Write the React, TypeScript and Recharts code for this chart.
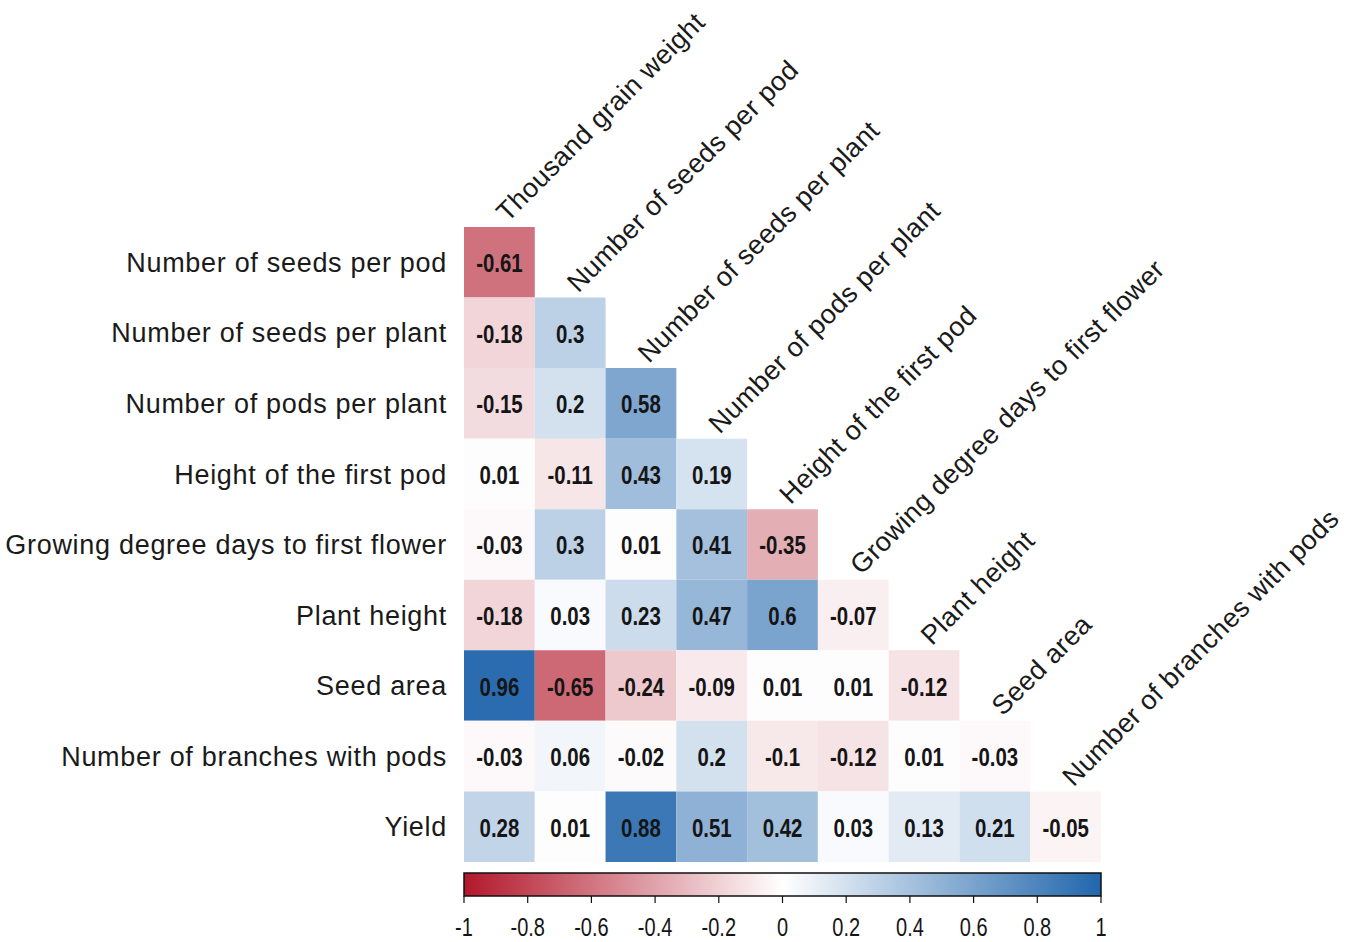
import React from "react";
import {
  ScatterChart,
  Scatter,
  XAxis,
  YAxis,
  ReferenceArea,
} from "recharts";

// Trait names (rows top-to-bottom, columns left-to-right)
const rowNames = [
  "Number of seeds per pod",
  "Number of seeds per plant",
  "Number of pods per plant",
  "Height of the first pod",
  "Growing degree days to first flower",
  "Plant height",
  "Seed area",
  "Number of branches with pods",
  "Yield",
];

const colNames = [
  "Thousand grain weight",
  "Number of seeds per pod",
  "Number of seeds per plant",
  "Number of pods per plant",
  "Height of the first pod",
  "Growing degree days to first flower",
  "Plant height",
  "Seed area",
  "Number of branches with pods",
];

// Lower-triangle correlation coefficients, one array per row
const rSeedsPod = [-0.61];
const rSeedsPlant = [-0.18, 0.3];
const rPodsPlant = [-0.15, 0.2, 0.58];
const rHeightFirstPod = [0.01, -0.11, 0.43, 0.19];
const rGdd = [-0.03, 0.3, 0.01, 0.41, -0.35];
const rPlantHeight = [-0.18, 0.03, 0.23, 0.47, 0.6, -0.07];
const rSeedArea = [0.96, -0.65, -0.24, -0.09, 0.01, 0.01, -0.12];
const rBranches = [-0.03, 0.06, -0.02, 0.2, -0.1, -0.12, 0.01, -0.03];
const rYield = [0.28, 0.01, 0.88, 0.51, 0.42, 0.03, 0.13, 0.21, -0.05];

const matrix = [
  rSeedsPod,
  rSeedsPlant,
  rPodsPlant,
  rHeightFirstPod,
  rGdd,
  rPlantHeight,
  rSeedArea,
  rBranches,
  rYield,
];

// Colour-key ticks
const legendTicks = [-1, -0.8, -0.6, -0.4, -0.2, 0, 0.2, 0.4, 0.6, 0.8, 1];

// Colour-key placement in row units (below the last row)
const KEY_TOP = 9.157;
const KEY_BOTTOM = 9.483;

const NEG = [178, 24, 43];
const POS = [33, 102, 172];

function corrColor(v: number): string {
  const end = v < 0 ? NEG : POS;
  const t = Math.min(1, Math.abs(v));
  const c = end.map((e) => Math.round(255 + (e - 255) * t));
  return `rgb(${c[0]},${c[1]},${c[2]})`;
}

type Cell = { x: number; y: number; v: number; c: number; r: number };

const cells: Cell[] = [];
matrix.forEach((row, r) =>
  row.forEach((v, c) => cells.push({ x: c + 0.5, y: r + 0.5, v, c, r }))
);

const colLabelPoints = colNames.map((name, c) => ({ x: c + 0.5, y: c, name }));

// anchor points that register the colour-key axis
const keyPoints = legendTicks.map((k) => ({ k, y: KEY_BOTTOM }));

const LABEL_FONT = "'Liberation Sans', Arial, sans-serif";

// Condensed numerals
const NarrowText = ({ x, y, children, bold, size, anchor }: any) => (
  <text
    transform={`translate(${x},${y}) scale(0.8,1)`}
    textAnchor={anchor}
    fontFamily={LABEL_FONT}
    fontWeight={bold ? "bold" : "normal"}
    fontSize={size}
    fill="#151515"
  >
    {children}
  </text>
);

const ValueText = (props: any) => {
  const { cx, cy, payload } = props;
  return (
    <NarrowText x={cx} y={cy + 10} bold size={25.5} anchor="middle">
      {String(payload.v)}
    </NarrowText>
  );
};

const ColumnLabel = (props: any) => {
  const { cx, cy, payload } = props;
  return (
    <text
      transform={`translate(${cx + 8},${cy - 4}) rotate(-45)`}
      textAnchor="start"
      fontFamily={LABEL_FONT}
      fontSize={27}
      letterSpacing={0.4}
      fill="#1a1a1a"
    >
      {payload.name}
    </text>
  );
};

const KeyTick = (props: any) => {
  const { x, y, payload } = props;
  return (
    <NarrowText x={x} y={y + 16} size={25} anchor="middle">
      {String(payload.value)}
    </NarrowText>
  );
};

const KeyShape = (props: any) => {
  const { x, y, width, height } = props;
  return (
    <g>
      <defs>
        <linearGradient id="corrKey" x1="0" y1="0" x2="1" y2="0">
          <stop offset="0%" stopColor={corrColor(-1)} />
          <stop offset="50%" stopColor="#ffffff" />
          <stop offset="100%" stopColor={corrColor(1)} />
        </linearGradient>
      </defs>
      <rect
        x={x}
        y={y}
        width={width}
        height={height}
        fill="url(#corrKey)"
        stroke="#111"
        strokeWidth={1.5}
      />
    </g>
  );
};

export default function App() {
  return (
    <div style={{ position: "absolute", left: 0, top: 0, background: "#fff" }}>
      <ScatterChart
        width={1350}
        height={942}
        margin={{ top: 227, right: 249, bottom: 0, left: 0 }}
      >
        <XAxis
          xAxisId="grid"
          type="number"
          dataKey="x"
          domain={[0, 9]}
          height={0}
          hide
        />
        <XAxis
          xAxisId="key"
          type="number"
          dataKey="k"
          domain={[-1, 1]}
          allowDataOverflow
          ticks={legendTicks}
          interval={0}
          height={46}
          axisLine={false}
          tickSize={7}
          tickMargin={17}
          tickLine={{ stroke: "#111", strokeWidth: 1.2 }}
          tick={<KeyTick />}
        />
        <YAxis
          yAxisId="rows"
          type="number"
          dataKey="y"
          domain={[0, KEY_BOTTOM]}
          reversed
          width={464}
          ticks={rowNames.map((_, i) => i + 0.5)}
          interval={0}
          tickFormatter={(v: number) => rowNames[Math.floor(v)] ?? ""}
          axisLine={false}
          tickLine={false}
          tickSize={0}
          tickMargin={17}
          tick={{
            fontFamily: LABEL_FONT,
            fontSize: 27,
            letterSpacing: 0.7,
            fill: "#1a1a1a",
          }}
        />
        {cells.map((d) => (
          <ReferenceArea
            key={`cell-${d.r}-${d.c}`}
            xAxisId="grid"
            yAxisId="rows"
            x1={d.c}
            x2={d.c + 1}
            y1={d.r}
            y2={d.r + 1}
            fill={corrColor(d.v)}
            fillOpacity={1}
            stroke="none"
            ifOverflow="visible"
          />
        ))}
        <ReferenceArea
          xAxisId="key"
          yAxisId="rows"
          x1={-1}
          x2={1}
          y1={KEY_TOP}
          y2={KEY_BOTTOM}
          ifOverflow="visible"
          shape={<KeyShape />}
        />
        <Scatter
          name="keyAnchor"
          data={keyPoints}
          xAxisId="key"
          yAxisId="rows"
          shape={() => <g />}
          isAnimationActive={false}
        />
        <Scatter
          name="values"
          data={cells}
          xAxisId="grid"
          yAxisId="rows"
          shape={<ValueText />}
          isAnimationActive={false}
        />
        <Scatter
          name="columns"
          data={colLabelPoints}
          xAxisId="grid"
          yAxisId="rows"
          shape={<ColumnLabel />}
          isAnimationActive={false}
        />
      </ScatterChart>
    </div>
  );
}
